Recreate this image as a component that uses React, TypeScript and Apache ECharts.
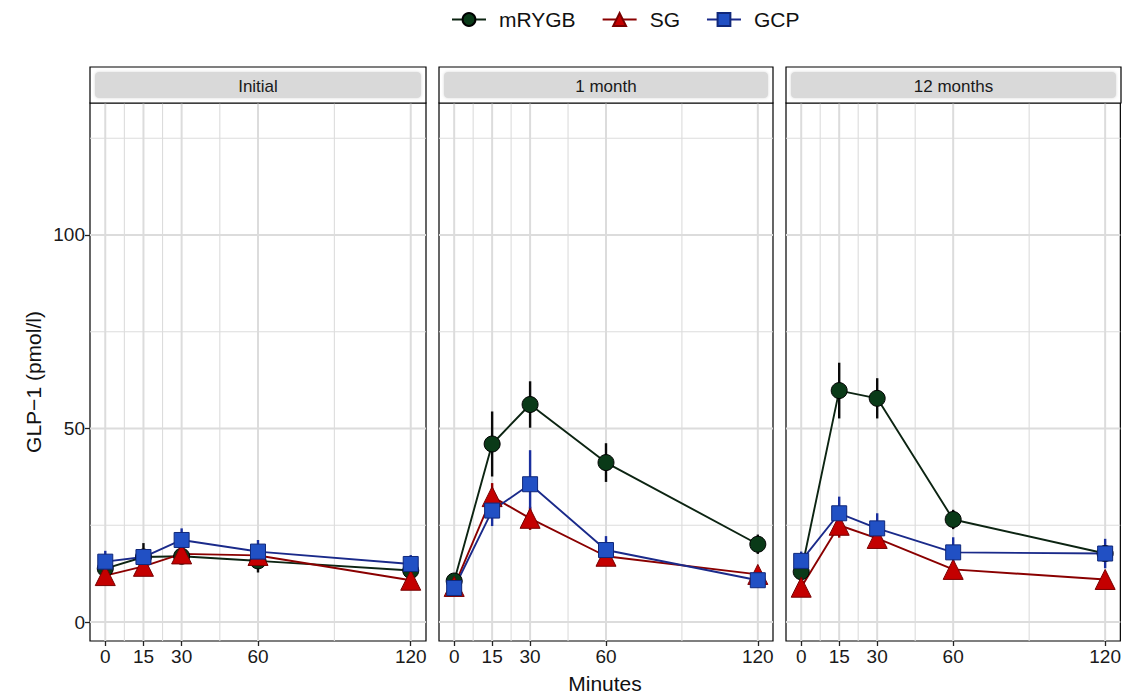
import React, { useEffect, useRef } from "react";
import * as echarts from "echarts";

const minutes = [0, 15, 30, 60, 120];
const panelTitles = ["Initial", "1 month", "12 months"];
const groups = ["mRYGB", "SG", "GCP"];
const xTicks = [0, 15, 30, 60, 120];
const xMinor = [7.5, 22.5, 45, 90];
const yTicks = [0, 50, 100];
const yMinor = [25, 75, 125];

// Initial
const mrygbInitial = [13.8, 16.8, 17.0, 15.8, 13.3];
const mrygbInitialErr = [1.5, 3.6, 1.8, 3.0, 1.5];
const sgInitial = [12.0, 14.4, 17.6, 17.2, 10.8];
const sgInitialErr = [1.2, 1.5, 1.5, 1.5, 1.2];
const gcpInitial = [15.6, 16.8, 21.2, 18.2, 15.0];
const gcpInitialErr = [2.8, 2.0, 3.0, 3.0, 2.3];

// 1 month
const mrygb1m = [10.6, 46.0, 56.2, 41.2, 20.1];
const mrygb1mErr = [1.5, 8.4, 6.0, 5.0, 2.5];
const sg1m = [9.2, 32.4, 26.8, 17.0, 12.3];
const sg1mErr = [1.0, 3.5, 3.0, 2.0, 1.0];
const gcp1m = [8.8, 28.8, 35.6, 18.6, 10.8];
const gcp1mErr = [1.0, 4.0, 8.8, 3.6, 1.0];

// 12 months
const mrygb12m = [13.0, 59.8, 57.8, 26.5, 17.7];
const mrygb12mErr = [1.2, 7.2, 5.2, 2.5, 2.0];
const sg12m = [9.0, 25.0, 21.6, 13.6, 11.0];
const sg12mErr = [0.8, 3.2, 1.5, 1.0, 0.8];
const gcp12m = [15.8, 28.1, 24.2, 18.0, 17.7];
const gcp12mErr = [2.4, 4.3, 3.9, 3.9, 3.8];

const panelData = [
  [
    [mrygbInitial, mrygbInitialErr],
    [sgInitial, sgInitialErr],
    [gcpInitial, gcpInitialErr],
  ],
  [
    [mrygb1m, mrygb1mErr],
    [sg1m, sg1mErr],
    [gcp1m, gcp1mErr],
  ],
  [
    [mrygb12m, mrygb12mErr],
    [sg12m, sg12mErr],
    [gcp12m, gcp12mErr],
  ],
];

const styles = [
  { line: "#0c2412", fill: "#0a3a18", border: "#000000", err: "#0a0a0a", symbol: "circle", size: 16 },
  { line: "#8a0000", fill: "#c40000", border: "#780000", err: "#9a0000", symbol: "triangle", size: 20 },
  { line: "#1a2a8a", fill: "#2150c4", border: "#10287a", err: "#1a2f9e", symbol: "rect", size: 15 },
];

const FONT = "Liberation Sans, Arial, sans-serif";
const PANEL_TOP = 103;
const PANEL_H = 538;
const STRIP_TOP = 67;
const panelsLayout = [
  { left: 90, width: 336 },
  { left: 439, width: 334 },
  { left: 786, width: 335 },
];

export default function App() {
  const ref = useRef<HTMLDivElement>(null);
  useEffect(() => {
    if (!ref.current) return;
    const chart = echarts.init(ref.current, null, { renderer: "svg" });

    const grids: any[] = [];
    const xAxes: any[] = [];
    const yAxes: any[] = [];
    const series: any[] = [];
    const graphics: any[] = [];

    panelsLayout.forEach((p, i) => {
      grids.push({
        left: p.left,
        top: PANEL_TOP,
        width: p.width,
        height: PANEL_H,
        show: true,
        borderColor: "#000",
        borderWidth: 1.2,
        backgroundColor: "#fff",
        containLabel: false,
      });
      xAxes.push({
        type: "value",
        gridIndex: i,
        min: -6,
        max: 126,
        position: "bottom",
        axisLine: { show: false, onZero: false },
        axisTick: {
          show: true,
          customValues: xTicks,
          length: 5,
          lineStyle: { color: "#222", width: 1.3 },
        },
        axisLabel: {
          show: true,
          customValues: xTicks,
          fontSize: 19,
          color: "#1a1a1a",
          margin: 6,
          fontFamily: FONT,
        },
        splitLine: { show: false },
      });
      yAxes.push({
        type: "value",
        gridIndex: i,
        min: -4.9,
        max: 134.1,
        position: "left",
        axisLine: { show: false, onZero: false },
        axisTick: {
          show: i === 0,
          customValues: yTicks,
          length: 5,
          lineStyle: { color: "#222", width: 1.3 },
        },
        axisLabel: {
          show: i === 0,
          customValues: yTicks,
          fontSize: 19,
          color: "#1a1a1a",
          margin: 5,
          fontFamily: FONT,
        },
        splitLine: { show: false },
      });

      // grid lines
      const gridItems: any[] = [];
      xTicks.forEach((v) => gridItems.push([v, 0, 1]));
      xMinor.forEach((v) => gridItems.push([v, 0, 0]));
      yTicks.forEach((v) => gridItems.push([v, 1, 1]));
      yMinor.forEach((v) => gridItems.push([v, 1, 0]));
      series.push({
        type: "custom",
        name: "grid" + i,
        xAxisIndex: i,
        yAxisIndex: i,
        silent: true,
        z: 0,
        data: gridItems,
        encode: { x: 0, y: 1 },
        renderItem: (params: any, api: any) => {
          const cs = params.coordSys;
          const v = api.value(0);
          const orient = api.value(1);
          const major = api.value(2);
          const style = {
            stroke: "#dcdcdc",
            lineWidth: major ? 2 : 1.1,
          };
          if (orient === 0) {
            const px = api.coord([v, 0])[0];
            return {
              type: "line",
              shape: { x1: px, y1: cs.y, x2: px, y2: cs.y + cs.height },
              style,
            };
          }
          const py = api.coord([0, v])[1];
          return {
            type: "line",
            shape: { x1: cs.x, y1: py, x2: cs.x + cs.width, y2: py },
            style,
          };
        },
      });

      // error bars
      panelData[i].forEach((gd, gi) => {
        const [vals, errs] = gd as number[][];
        const st = styles[gi];
        series.push({
          type: "custom",
          name: groups[gi] + " error",
          xAxisIndex: i,
          yAxisIndex: i,
          silent: true,
          z: 2,
          data: minutes.map((m, k) => [m, vals[k] - errs[k], vals[k] + errs[k]]),
          encode: { x: 0, y: [1, 2] },
          renderItem: (params: any, api: any) => {
            const lo = api.coord([api.value(0), api.value(1)]);
            const hi = api.coord([api.value(0), api.value(2)]);
            return {
              type: "line",
              shape: { x1: lo[0], y1: lo[1], x2: hi[0], y2: hi[1] },
              style: { stroke: st.err, lineWidth: 2.4 },
            };
          },
        });
      });

      // lines with markers
      panelData[i].forEach((gd, gi) => {
        const [vals] = gd as number[][];
        const st = styles[gi];
        series.push({
          type: "line",
          name: groups[gi],
          xAxisIndex: i,
          yAxisIndex: i,
          z: 3,
          data: minutes.map((m, k) => [m, vals[k]]),
          symbol: st.symbol,
          symbolSize: st.size,
          showAllSymbol: true,
          lineStyle: { color: st.line, width: 1.9 },
          itemStyle: { color: st.fill, borderColor: st.border, borderWidth: 1 },
          emphasis: { disabled: true },
        });
      });

      // strip
      graphics.push({
        type: "rect",
        shape: { x: p.left, y: STRIP_TOP, width: p.width, height: PANEL_TOP - STRIP_TOP },
        style: { fill: "#ffffff", stroke: "#000", lineWidth: 1.2 },
        z: 10,
      });
      graphics.push({
        type: "rect",
        shape: {
          x: p.left + 5,
          y: STRIP_TOP + 5,
          width: p.width - 10,
          height: PANEL_TOP - STRIP_TOP - 10,
          r: 4,
        },
        style: { fill: "#d9d9d9", shadowBlur: 3, shadowColor: "rgba(0,0,0,0.15)" },
        z: 11,
      });
      graphics.push({
        type: "text",
        x: p.left + p.width / 2,
        y: (STRIP_TOP + PANEL_TOP) / 2 + 1,
        style: {
          text: panelTitles[i],
          fontSize: 17,
          fill: "#1a1a1a",
          fontFamily: FONT,
          align: "center",
          verticalAlign: "middle",
        },
        z: 12,
      });
    });

    graphics.push({
      type: "text",
      x: 605,
      y: 683,
      style: {
        text: "Minutes",
        fontSize: 21,
        fill: "#111",
        fontFamily: FONT,
        align: "center",
        verticalAlign: "middle",
      },
    });
    graphics.push({
      type: "text",
      x: 33,
      y: 382,
      rotation: Math.PI / 2,
      style: {
        text: "GLP\u22121 (pmol/l)",
        fontSize: 21,
        fill: "#111",
        fontFamily: FONT,
        align: "center",
        verticalAlign: "middle",
      },
    });

    chart.setOption({
      animation: false,
      backgroundColor: "#ffffff",
      textStyle: { fontFamily: FONT },
      legend: {
        data: groups,
        top: 4,
        left: 446,
        itemWidth: 34,
        itemHeight: 16,
        itemGap: 26,
        textStyle: { fontSize: 21, color: "#111", padding: [0, 0, 0, 8], fontFamily: FONT },
        selectedMode: false,
      },
      grid: grids,
      xAxis: xAxes,
      yAxis: yAxes,
      series,
      graphic: graphics,
    });
    return () => chart.dispose();
  }, []);
  return (
    <div
      ref={ref}
      style={{ position: "fixed", left: 0, top: 0, width: 1124, height: 695 }}
    />
  );
}
